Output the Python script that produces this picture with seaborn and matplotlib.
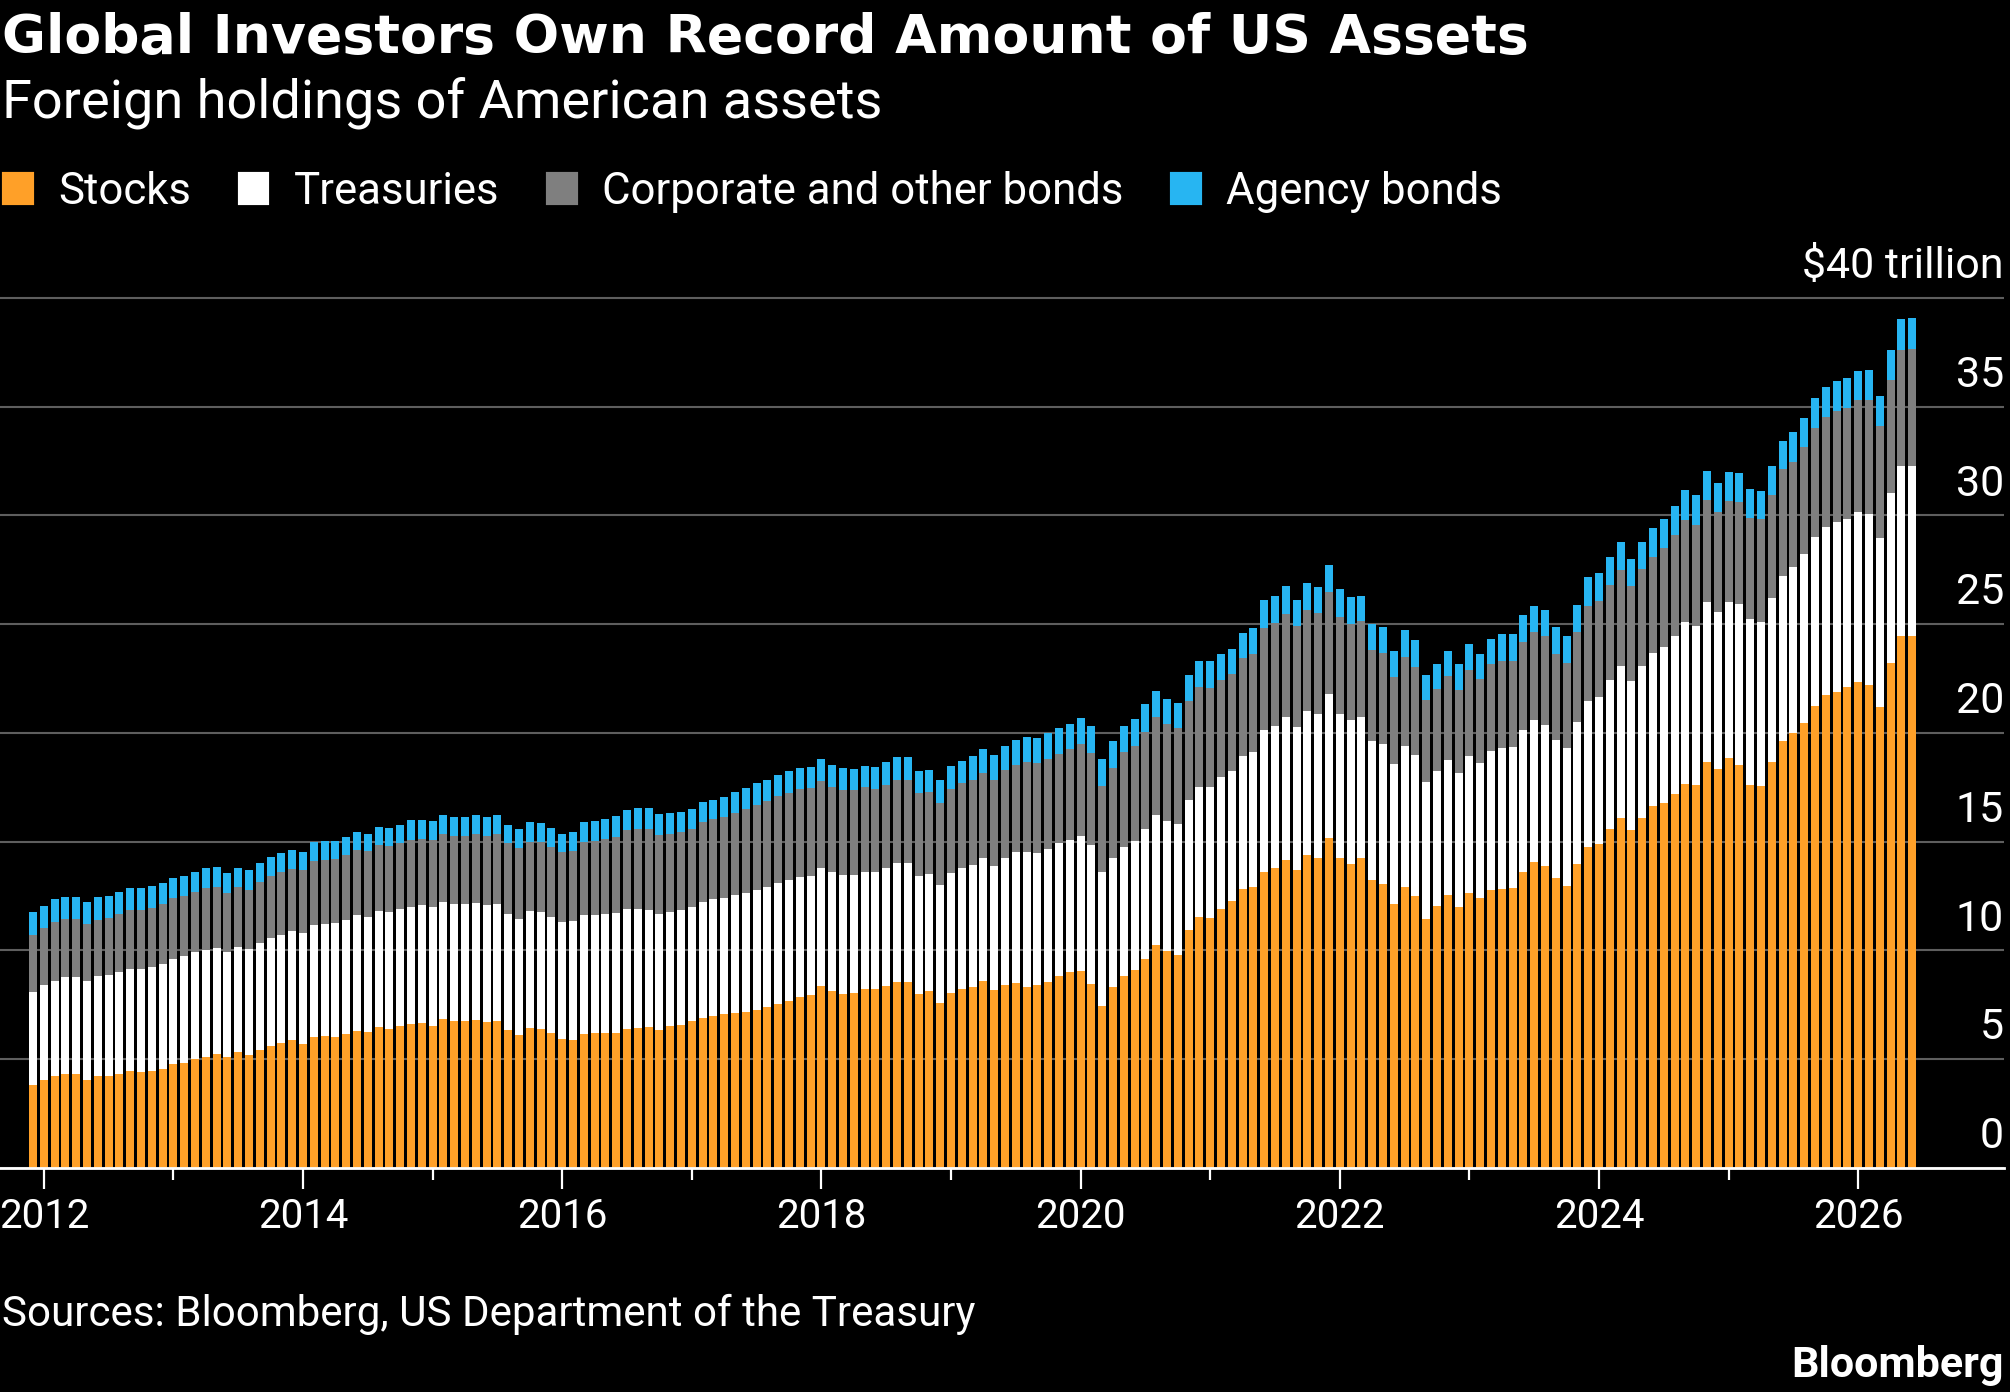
import matplotlib
matplotlib.use("Agg")
import matplotlib.pyplot as plt
import matplotlib.transforms as mtransforms
from matplotlib import font_manager
from matplotlib.patches import Patch
import pandas as pd
import seaborn as sns

# monthly, Dec 2011 .. Jun 2026, $ trillion
months = pd.period_range("2011-12", "2026-06", freq="M").strftime("%Y-%m").tolist()

stocks = [
    3.81,
    4.03, 4.21, 4.33, 4.29, 4.03, 4.24, 4.20, 4.29, 4.44, 4.40, 4.47, 4.53,
    4.76, 4.81, 4.98, 5.10, 5.21, 5.10, 5.30, 5.18, 5.41, 5.60, 5.73, 5.87,
    5.71, 6.02, 6.05, 6.02, 6.14, 6.31, 6.23, 6.45, 6.39, 6.54, 6.60, 6.64,
    6.51, 6.82, 6.74, 6.76, 6.79, 6.68, 6.74, 6.33, 6.10, 6.41, 6.36, 6.21,
    5.90, 5.87, 6.13, 6.18, 6.18, 6.18, 6.38, 6.44, 6.45, 6.33, 6.54, 6.57,
    6.74, 6.90, 6.99, 7.07, 7.13, 7.16, 7.26, 7.37, 7.52, 7.66, 7.86, 7.93,
    8.35, 8.13, 8.00, 8.03, 8.20, 8.20, 8.34, 8.54, 8.54, 8.00, 8.13, 7.57,
    8.05, 8.22, 8.29, 8.59, 8.17, 8.40, 8.49, 8.32, 8.40, 8.54, 8.81, 9.00,
    9.03, 8.44, 7.45, 8.29, 8.83, 9.07, 9.58, 10.24, 9.95, 9.78, 10.93, 11.51,
    11.47, 11.91, 12.25, 12.81, 12.89, 13.61, 13.77, 14.16, 13.67, 14.36, 14.22, 15.14,
    14.22, 13.98, 14.22, 13.22, 13.05, 12.11, 12.89, 12.48, 11.46, 12.05, 12.56, 11.97,
    12.64, 12.42, 12.75, 12.81, 12.85, 13.61, 14.08, 13.87, 13.30, 12.97, 13.95, 14.73,
    14.88, 15.57, 16.09, 15.55, 16.09, 16.62, 16.79, 17.20, 17.65, 17.60, 18.65, 18.34,
    18.83, 18.51, 17.62, 17.57, 18.64, 19.64, 19.99, 20.46, 21.25, 21.75, 21.87, 22.10,
    22.35, 22.19, 21.19, 23.23, 24.46, 24.46,
]
treasuries = [
    4.28,
    4.36, 4.37, 4.43, 4.50, 4.55, 4.58, 4.67, 4.70, 4.69, 4.73, 4.75, 4.84,
    4.84, 4.91, 4.93, 4.90, 4.90, 4.84, 4.85, 4.87, 4.93, 4.95, 4.99, 5.00,
    5.07, 5.13, 5.16, 5.22, 5.24, 5.30, 5.30, 5.36, 5.39, 5.36, 5.40, 5.44,
    5.47, 5.41, 5.40, 5.38, 5.38, 5.38, 5.37, 5.35, 5.36, 5.39, 5.41, 5.33,
    5.41, 5.47, 5.50, 5.45, 5.50, 5.54, 5.53, 5.47, 5.41, 5.32, 5.21, 5.26,
    5.23, 5.33, 5.36, 5.33, 5.39, 5.45, 5.51, 5.52, 5.57, 5.55, 5.51, 5.47,
    5.42, 5.45, 5.45, 5.42, 5.42, 5.40, 5.43, 5.47, 5.47, 5.41, 5.37, 5.45,
    5.50, 5.55, 5.63, 5.64, 5.72, 5.86, 6.03, 6.21, 6.08, 6.13, 6.10, 6.06,
    6.23, 6.42, 6.15, 5.95, 5.92, 5.96, 6.01, 5.99, 5.99, 6.03, 5.96, 5.98,
    6.05, 6.04, 5.99, 6.10, 6.23, 6.51, 6.56, 6.58, 6.58, 6.66, 6.66, 6.66,
    6.62, 6.59, 6.52, 6.39, 6.44, 6.46, 6.52, 6.52, 6.27, 6.17, 6.21, 6.19,
    6.29, 6.21, 6.43, 6.51, 6.49, 6.53, 6.49, 6.50, 6.39, 6.35, 6.56, 6.75,
    6.76, 6.84, 6.96, 6.85, 6.98, 7.06, 7.17, 7.27, 7.44, 7.33, 7.37, 7.22,
    7.19, 7.42, 7.59, 7.52, 7.54, 7.59, 7.61, 7.74, 7.74, 7.71, 7.82, 7.75,
    7.78, 7.89, 7.75, 7.78, 7.82, 7.82,
]
corporate = [
    2.60,
    2.64, 2.71, 2.68, 2.66, 2.63, 2.59, 2.63, 2.66, 2.72, 2.72, 2.74, 2.74,
    2.79, 2.76, 2.79, 2.85, 2.81, 2.71, 2.77, 2.74, 2.78, 2.85, 2.89, 2.88,
    2.90, 2.94, 2.96, 2.97, 3.00, 3.01, 3.02, 3.04, 3.00, 3.02, 3.08, 3.05,
    3.09, 3.11, 3.11, 3.12, 3.19, 3.20, 3.25, 3.23, 3.22, 3.20, 3.20, 3.22,
    3.19, 3.22, 3.34, 3.39, 3.42, 3.51, 3.60, 3.65, 3.70, 3.64, 3.61, 3.60,
    3.60, 3.65, 3.67, 3.71, 3.79, 3.88, 3.92, 3.98, 4.00, 4.03, 4.06, 4.05,
    4.02, 3.94, 3.94, 3.90, 3.87, 3.80, 3.85, 3.83, 3.83, 3.81, 3.77, 3.75,
    3.87, 3.90, 3.92, 3.94, 3.95, 4.01, 4.00, 4.11, 4.11, 4.14, 4.12, 4.18,
    4.21, 4.22, 3.94, 4.16, 4.35, 4.38, 4.46, 4.48, 4.45, 4.41, 4.59, 4.63,
    4.55, 4.47, 4.46, 4.51, 4.51, 4.70, 4.73, 4.73, 4.65, 4.62, 4.61, 4.65,
    4.49, 4.45, 4.40, 4.18, 4.18, 3.99, 4.07, 4.01, 3.79, 3.77, 3.83, 3.81,
    3.96, 3.85, 3.96, 3.98, 3.98, 4.02, 4.06, 4.08, 3.94, 3.90, 4.12, 4.36,
    4.41, 4.37, 4.43, 4.34, 4.44, 4.40, 4.52, 4.62, 4.69, 4.64, 4.66, 4.59,
    4.62, 4.68, 4.68, 4.73, 4.76, 4.89, 4.87, 4.94, 5.03, 5.07, 5.12, 5.10,
    5.15, 5.20, 5.16, 5.20, 5.32, 5.35,
]
agency = [
    1.06,
    1.02, 1.05, 1.03, 1.00, 0.99, 1.02, 0.98, 1.01, 1.01, 1.01, 1.00, 0.97,
    0.93, 0.92, 0.90, 0.92, 0.91, 0.89, 0.88, 0.90, 0.91, 0.89, 0.88, 0.86,
    0.85, 0.87, 0.84, 0.83, 0.83, 0.83, 0.81, 0.82, 0.82, 0.85, 0.89, 0.85,
    0.87, 0.86, 0.86, 0.89, 0.87, 0.89, 0.85, 0.86, 0.88, 0.88, 0.86, 0.86,
    0.86, 0.87, 0.91, 0.92, 0.93, 0.94, 0.93, 0.96, 0.96, 0.97, 0.95, 0.94,
    0.94, 0.95, 0.91, 0.95, 0.98, 0.95, 1.01, 0.98, 0.99, 1.00, 0.97, 0.99,
    1.00, 0.99, 1.00, 1.00, 1.00, 1.02, 1.02, 1.04, 1.04, 1.01, 1.03, 1.07,
    1.07, 1.04, 1.09, 1.08, 1.14, 1.14, 1.16, 1.17, 1.19, 1.17, 1.17, 1.17,
    1.21, 1.24, 1.25, 1.24, 1.21, 1.20, 1.26, 1.19, 1.15, 1.17, 1.17, 1.16,
    1.21, 1.21, 1.15, 1.19, 1.17, 1.27, 1.25, 1.27, 1.19, 1.25, 1.23, 1.25,
    1.27, 1.21, 1.15, 1.19, 1.21, 1.19, 1.23, 1.25, 1.14, 1.19, 1.15, 1.17,
    1.17, 1.15, 1.18, 1.23, 1.21, 1.25, 1.21, 1.21, 1.25, 1.23, 1.25, 1.33,
    1.29, 1.31, 1.30, 1.26, 1.27, 1.33, 1.35, 1.32, 1.39, 1.35, 1.35, 1.32,
    1.34, 1.35, 1.33, 1.30, 1.32, 1.30, 1.35, 1.33, 1.38, 1.36, 1.36, 1.38,
    1.37, 1.41, 1.39, 1.39, 1.43, 1.43,
]

series = ["Stocks", "Treasuries", "Corporate and other bonds", "Agency bonds"]
colors = ["#FFA028", "#FFFFFF", "#7F7F7F", "#27B5F2"]
y_ticks = [0, 5, 10, 15, 20, 25, 30, 35, 40]
y_labels = ["0", "5", "10", "15", "20", "25", "30", "35", "\\$40 trillion"]

df = pd.DataFrame({"month": months, "Stocks": stocks, "Treasuries": treasuries,
                   "Corporate and other bonds": corporate, "Agency bonds": agency})
tops = df[series].cumsum(axis=1)

sns.set_theme(style="white")
installed = {f.name for f in font_manager.fontManager.ttflist}
main_font = "Roboto" if "Roboto" in installed else "DejaVu Sans"
plt.rcParams["font.family"] = [main_font, "DejaVu Sans"]

fig = plt.figure(figsize=(20.1, 13.92), dpi=100, facecolor="black")
ax = fig.add_axes([0.0, 0.1611, 0.997, 0.6406])
ax.set_facecolor("black")

# stacked bars: draw cumulative totals from the top layer down
for name, col in reversed(list(zip(series, colors))):
    sns.barplot(x=df["month"], y=tops[name], color=col, saturation=1,
                width=0.74, linewidth=0, errorbar=None, ax=ax)

ax.set_xlim(-3.06, 182.5)
ax.set_ylim(0, 41)
ax.set_xlabel("")
ax.set_ylabel("")

for side in ["top", "left", "right"]:
    ax.spines[side].set_visible(False)
ax.spines["bottom"].set_color("white")
ax.spines["bottom"].set_linewidth(2.0)

ax.set_yticks(y_ticks)
ax.tick_params(axis="y", length=0, labelleft=False)
ax.grid(axis="y", color="#5e5e5e", linewidth=1.5)
ax.set_axisbelow(True)

trans = mtransforms.blended_transform_factory(ax.transAxes, ax.transData)
for v, lab in zip(y_ticks, y_labels):
    ax.text(1.0, v + 0.9, lab, transform=trans, ha="right", va="baseline",
            color="white", fontsize=31)

jan = [i for i, m in enumerate(months) if m.endswith("-01")]
years = [int(months[i][:4]) for i in jan]
major = [i for i, y in zip(jan, years) if y % 2 == 0]
minor = [i for i, y in zip(jan, years) if y % 2 == 1]
ax.set_xticks(major)
ax.set_xticklabels([str(y) for y in years if y % 2 == 0])
ax.set_xticks(minor, minor=True)
ax.tick_params(axis="x", which="major", length=15, width=1.6, color="white",
               labelcolor="white", labelsize=29, pad=6, bottom=True)
ax.tick_params(axis="x", which="minor", length=8.5, width=1.6, color="white",
               bottom=True)

fig.text(0.001, 0.9619, "Global Investors Own Record Amount of US Assets",
         color="white", fontsize=38.6, fontweight="bold", va="baseline",
         family=["DejaVu Sans"])
fig.text(0.001, 0.9159, "Foreign holdings of American assets",
         color="white", fontsize=39, va="baseline")

handles = [Patch(facecolor=c, edgecolor=c, linewidth=3, joinstyle="round", label=s)
           for s, c in zip(series, colors)]
fig.legend(handles=handles, loc="upper left", bbox_to_anchor=(0.002, 1 - 170 / 1392),
           ncol=4, frameon=False, fontsize=31.5, labelcolor="white",
           handlelength=0.63, handleheight=0.63, handletextpad=0.6,
           columnspacing=1.12, borderpad=0, borderaxespad=0)

fig.text(0.001, 0.0474, "Sources: Bloomberg, US Department of the Treasury",
         color="white", fontsize=30.3, va="baseline")
fig.text(0.997, 0.0108, "Bloomberg", color="white", fontsize=31,
         fontweight="bold", ha="right", va="baseline")

fig.savefig("out.png", dpi=100, facecolor="black")
